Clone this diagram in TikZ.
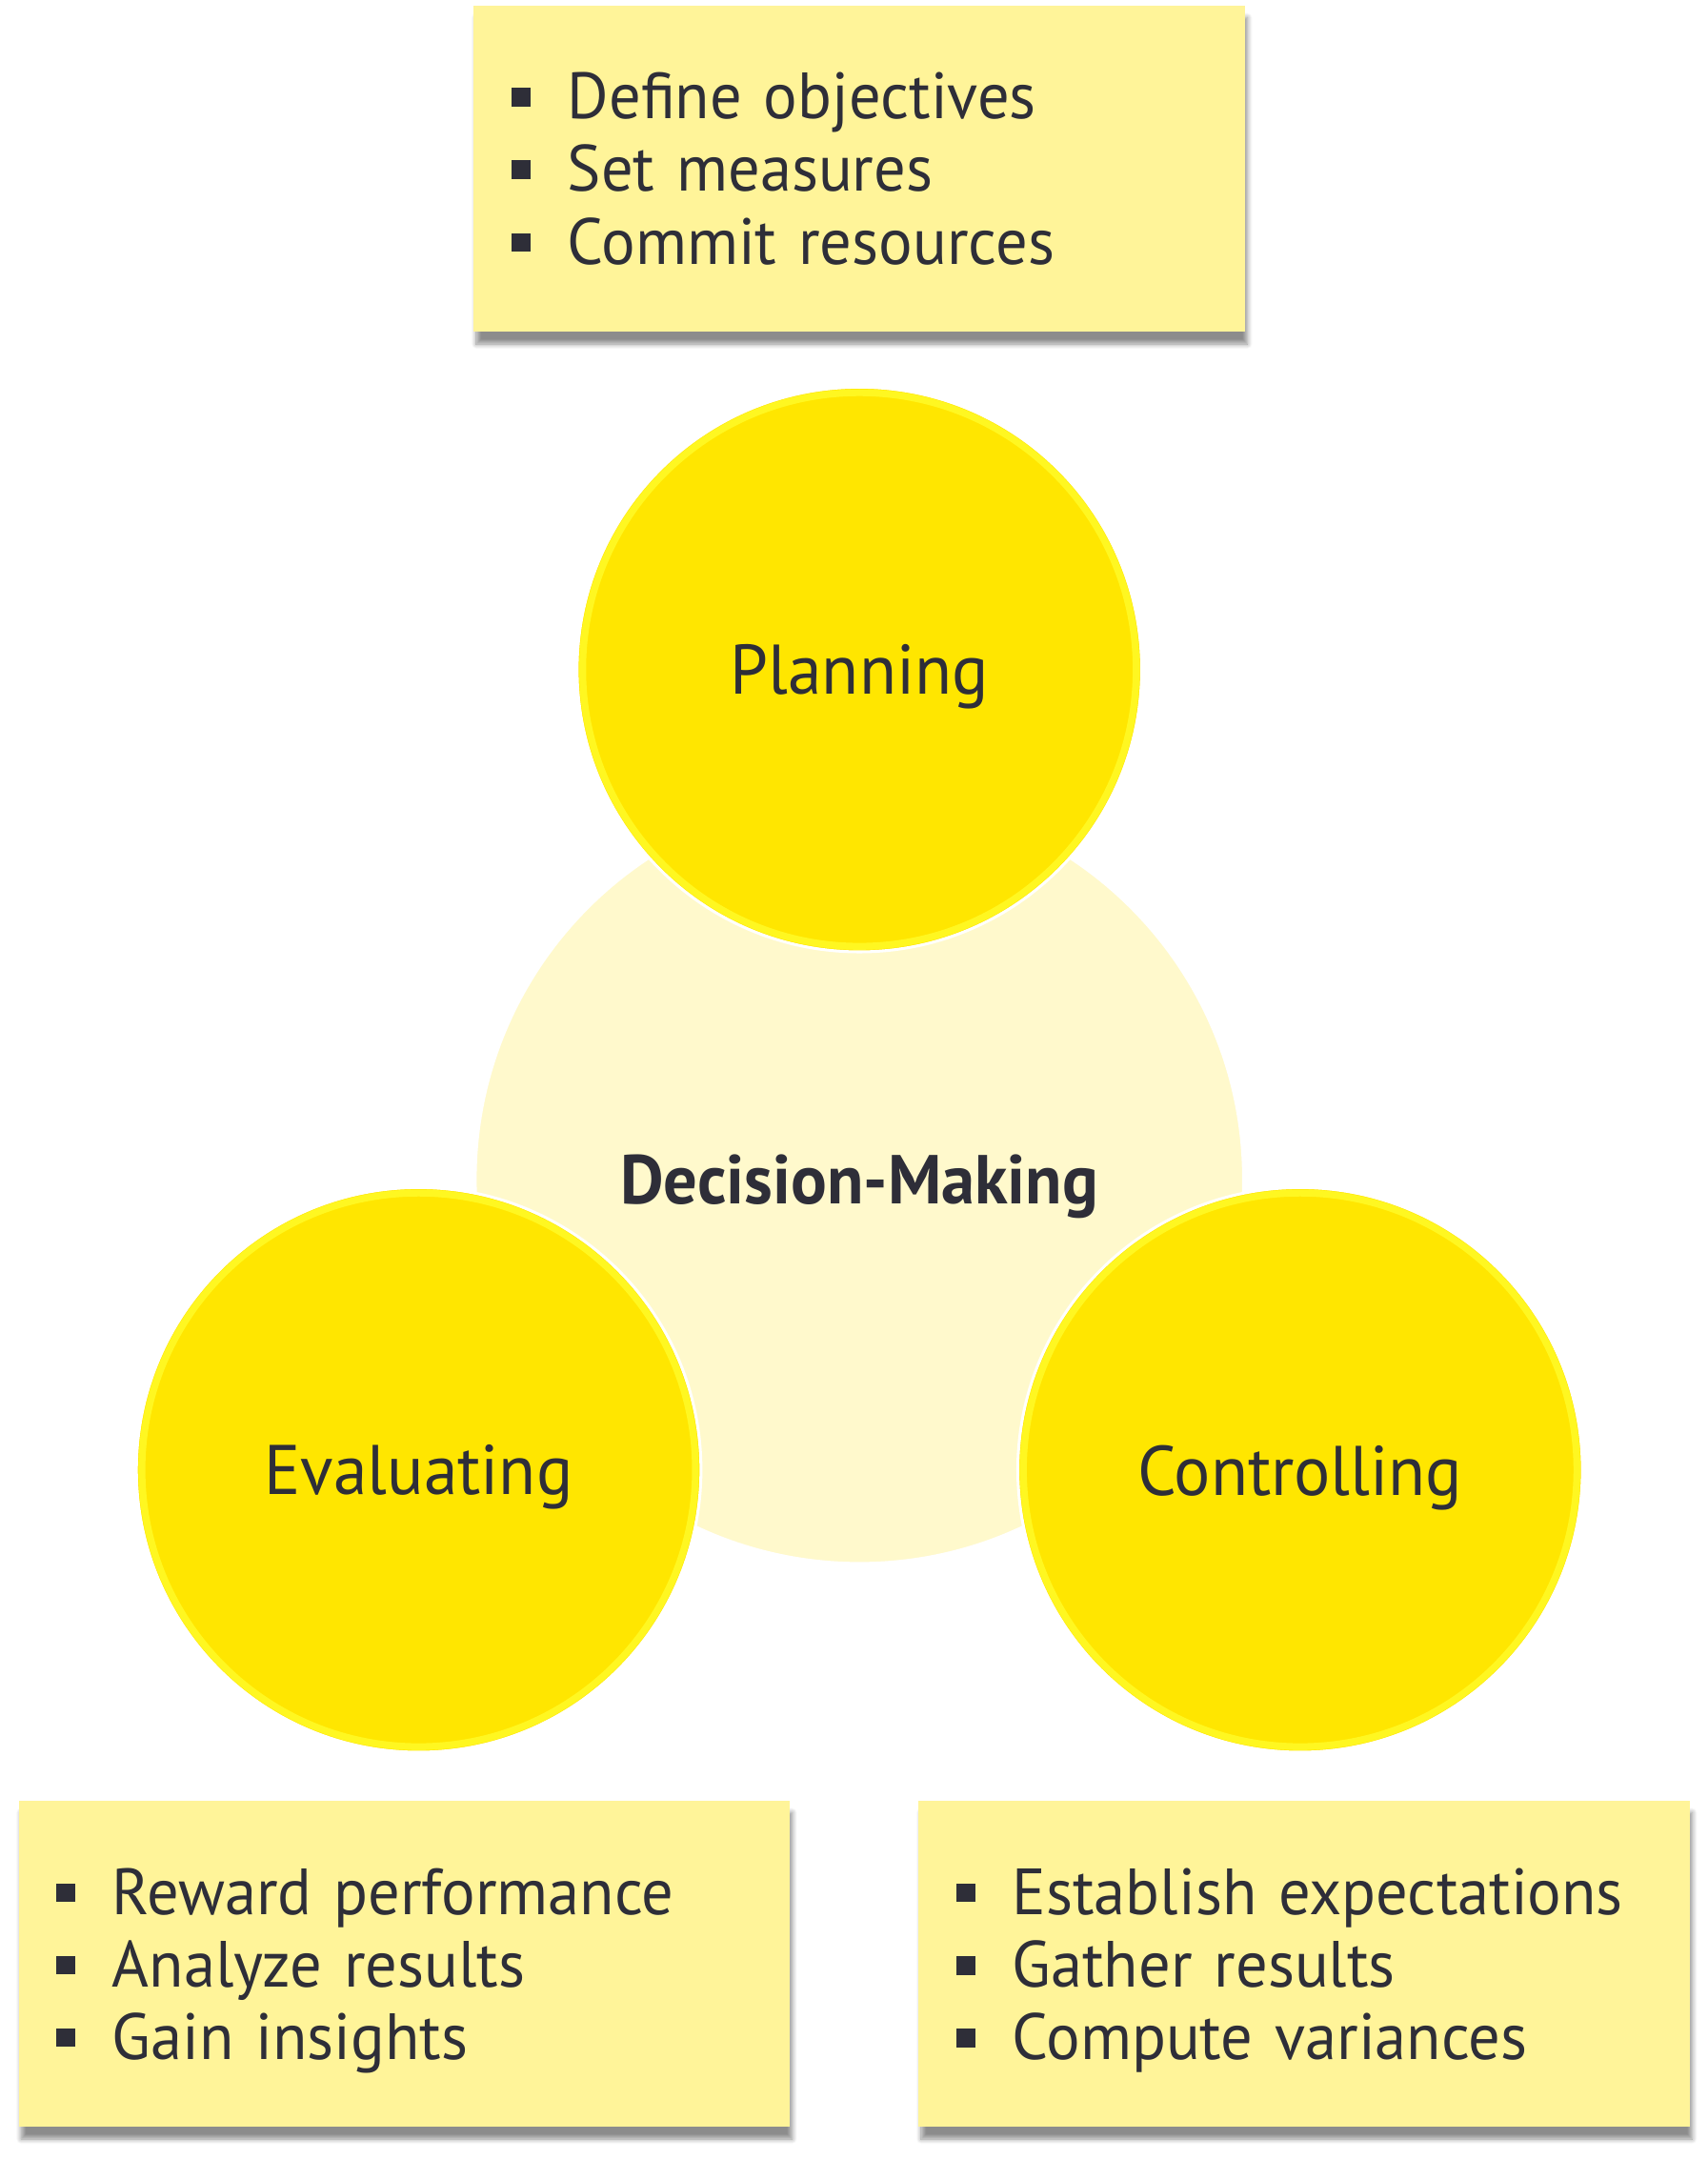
\documentclass[tikz,border=0pt]{standalone}
\usepackage{fontspec}
\setmainfont{PT Sans}[FakeStretch=0.97]
\usetikzlibrary{%
		shadows.blur%
	}
\definecolor{eyyellow}{HTML}{FFE600}
\definecolor{rimyellow}{HTML}{FFFF30}
\definecolor{paleyellow}{HTML}{FFF9CC}
\definecolor{notefill}{HTML}{FFF499}
\definecolor{inkgray}{HTML}{2E2E38}
\tikzset{
	note/.style={fill=notefill, minimum height=4.74cm, minimum width=11.2cm, inner sep=0pt,
		blur shadow={shadow xshift=1pt, shadow yshift=-5pt, shadow blur steps=8, shadow opacity=45}},
	notelist/.style={anchor=west, inner sep=0pt, text width=10cm, align=left, text=inkgray,
		font=\fontsize{27}{30}\selectfont},
	stage/.style={circle, fill=eyyellow, draw=white, line width=1.2pt, minimum size=8.2cm, inner sep=0pt},
	hub/.style={circle, fill=paleyellow, draw=white, line width=1.2pt, minimum size=11.16cm, inner sep=0pt},
	caption/.style={text=inkgray, font=\fontsize{29}{32}\selectfont, yshift=-0.11cm},
	rim/.style={rimyellow, line width=0.1cm, opacity=0.7}
}
\newcommand{\sqbullet}{\rule[0.18cm]{0.27cm}{0.27cm}\hspace{0.54cm}}

\begin{document}
\begin{tikzpicture}[x=0.02cm, y=-0.02cm]
			\useasboundingbox (0,0) rectangle (1240,1568);
			\node[note] (plannote) at (624,122.5) {};
			\node[note] (evalnote) at (293.5,1425.5) {};
			\node[note] (ctrlnote) at (947,1425.5) {};
			\node[notelist] (planlist) at ([xshift=0.55cm]plannote.west) {\sqbullet Define objectives\\ \sqbullet Set measures\\ \sqbullet Commit resources};
			\node[notelist, yshift=-0.1cm] (evallist) at ([xshift=0.55cm]evalnote.west) {\sqbullet Reward performance\\ \sqbullet Analyze results\\ \sqbullet Gain insights};
			\node[notelist, yshift=-0.1cm] (ctrllist) at ([xshift=0.55cm]ctrlnote.west) {\sqbullet Establish expectations\\ \sqbullet Gather results\\ \sqbullet Compute variances};
			
			\node[hub] (decide) at (624,856) {};
			\node[stage] (plan) at (624,486) {};
			\node[stage] (eval) at (304,1067) {};
			\node[stage] (ctrl) at (944,1067) {};
			\draw[rim] (plan) circle (4.02cm);
			\draw[rim] (eval) circle (4.02cm);
			\draw[rim] (ctrl) circle (4.02cm);
			\node[caption, font=\fontsize{28.6}{32}\selectfont\bfseries] (decidetext) at (decide) {Decision-Making};
			\node[caption] (plantext) at (plan) {Planning};
			\node[caption] (evaltext) at (eval) {Evaluating};
			\node[caption] (ctrltext) at (ctrl) {Controlling};
		\end{tikzpicture}
\end{document}
